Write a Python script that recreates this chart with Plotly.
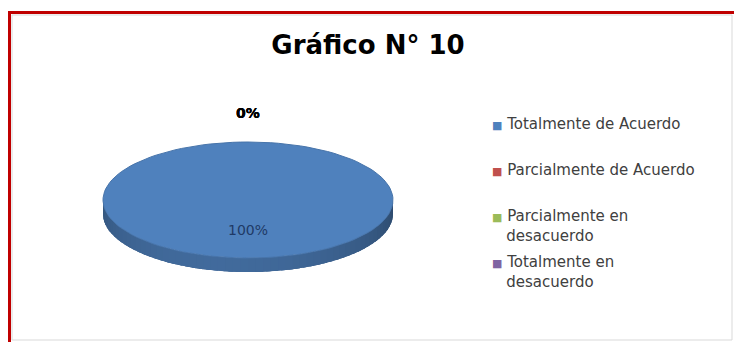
import math
import plotly.graph_objects as go

# ---------------- data ----------------
categories = ["Totalmente de Acuerdo", "Parcialmente de Acuerdo",
              "Parcialmente en desacuerdo", "Totalmente en desacuerdo"]
legend_lines = [["Totalmente de Acuerdo"], ["Parcialmente de Acuerdo"],
                ["Parcialmente en", "desacuerdo"], ["Totalmente en", "desacuerdo"]]
values = [100, 0, 0, 0]
colors = ["#4F81BD", "#C0504D", "#9BBB59", "#8064A2"]
title_text = "Gráfico N° 10"

# ---------------- layout constants (pixels) ----------------
W, H = 734, 342
CX, CY = 248, 200      # ellipse centre (top face)
RX, RY = 145, 58       # ellipse radii
DEPTH = 14             # 3-D thickness
N_ARC = 120


def shade(hex_color, f):
    h = hex_color.lstrip("#")
    r, g, b = (int(h[i:i + 2], 16) for i in (0, 2, 4))
    return "rgb(%d,%d,%d)" % (min(255, r * f), min(255, g * f), min(255, b * f))


total = float(sum(values))
fracs = [v / total for v in values]
starts, ends = [], []
acc = 0.0
for f in fracs:
    starts.append(-math.pi / 2 + 2 * math.pi * acc)
    acc += f
    ends.append(-math.pi / 2 + 2 * math.pi * acc)


def slice_at(theta):
    t = theta
    while t < -math.pi / 2:
        t += 2 * math.pi
    while t >= 3 * math.pi / 2:
        t -= 2 * math.pi
    for i, (s, e) in enumerate(zip(starts, ends)):
        if s <= t < e and e > s:
            return i
    return 0


def side_factor(a):
    return 0.62 + 0.2 * math.sin(a) - 0.05 * math.cos(a)


fig = go.Figure()

# base side polygon (front half of the cylinder wall)
n_side = 60
bx = [CX + RX * math.cos(math.pi * k / n_side) for k in range(n_side + 1)]
by = [CY + RY * math.sin(math.pi * k / n_side) for k in range(n_side + 1)]
fig.add_trace(go.Scatter(
    x=bx + bx[::-1], y=by + [y + DEPTH for y in by[::-1]],
    fill="toself", mode="lines", line=dict(width=0),
    fillcolor=shade(colors[slice_at(math.pi / 2)], 0.72),
    showlegend=False, hoverinfo="skip"))

# shaded strips (slightly overlapping)
for k in range(n_side):
    a0 = math.pi * k / n_side
    a1 = min(math.pi, math.pi * (k + 1.6) / n_side)
    am = (a0 + a1) / 2
    idx = slice_at(am)
    col = shade(colors[idx], side_factor(am))
    xs = [CX + RX * math.cos(a0), CX + RX * math.cos(a1),
          CX + RX * math.cos(a1), CX + RX * math.cos(a0)]
    ys = [CY + RY * math.sin(a0), CY + RY * math.sin(a1),
          CY + RY * math.sin(a1) + DEPTH, CY + RY * math.sin(a0) + DEPTH]
    fig.add_trace(go.Scatter(x=xs, y=ys, fill="toself", mode="lines",
                             line=dict(width=0), fillcolor=col,
                             showlegend=False, hoverinfo="skip"))

# top face slices
for i, v in enumerate(values):
    if v <= 0:
        continue
    s, e = starts[i], ends[i]
    n = max(2, int(N_ARC * (e - s) / (2 * math.pi)))
    xs, ys = [], []
    if fracs[i] < 0.9999:
        xs.append(CX)
        ys.append(CY)
    for j in range(n + 1):
        a = s + (e - s) * j / n
        xs.append(CX + RX * math.cos(a))
        ys.append(CY + RY * math.sin(a))
    fig.add_trace(go.Scatter(x=xs, y=ys, fill="toself", mode="lines",
                             line=dict(width=1, color=shade(colors[i], 0.9)),
                             fillcolor=colors[i],
                             showlegend=False, hoverinfo="skip"))

# data labels
for i, v in enumerate(values):
    mid = (starts[i] + ends[i]) / 2
    pct = "%d%%" % round(fracs[i] * 100)
    if v > 0:
        lx, ly = CX, CY + 0.52 * RY * math.sin(mid)
        if fracs[i] < 0.9999:
            lx = CX + 0.55 * RX * math.cos(mid)
        fnt = dict(family="DejaVu Sans", size=14, color="#1F3A66")
        txt = pct
    else:
        lx, ly = CX + 1.5 * RX * math.cos(mid), CY + 1.5 * RY * math.sin(mid)
        fnt = dict(family="DejaVu Sans", size=14, color="#000000")
        txt = "<b>%s</b>" % pct
    fig.add_annotation(x=lx, y=ly, xref="x", yref="y", text=txt,
                       showarrow=False, font=fnt)

# legend entries (coloured square glyph set tight against the text)
INDENT = "&nbsp;" * 3
for i, lines in enumerate(legend_lines):
    second = lines[1] if len(lines) > 1 else "&nbsp;"
    label = "<span style='color:%s;font-size:11px'>■</span> %s<br>%s%s" % (
        colors[i], lines[0], INDENT, second)
    fig.add_trace(go.Scatter(
        x=[None], y=[None], mode="markers", name=label,
        marker=dict(symbol="square", size=1, color="rgba(0,0,0,0)"),
        legendgroup=str(i)))


def px(x):
    return x / W


def py(y):
    return 1 - y / H


shapes = [
    dict(type="rect", xref="paper", yref="paper", x0=px(12), x1=px(732),
         y0=py(340), y1=py(15), line=dict(color="#D9D9D9", width=1),
         fillcolor="rgba(0,0,0,0)", layer="below"),
    dict(type="rect", xref="paper", yref="paper", x0=px(8), x1=px(734),
         y0=py(11), y1=py(14), line=dict(width=0), fillcolor="#C00000"),
    dict(type="rect", xref="paper", yref="paper", x0=px(8), x1=px(11),
         y0=py(342), y1=py(11), line=dict(width=0), fillcolor="#C00000"),
]

fig.update_layout(
    width=W, height=H, margin=dict(l=0, r=0, t=0, b=0),
    paper_bgcolor="white", plot_bgcolor="white",
    xaxis=dict(range=[0, W], visible=False, fixedrange=True, domain=[0, 1]),
    yaxis=dict(range=[H, 0], visible=False, fixedrange=True, domain=[0, 1]),
    title=dict(text="<b>%s</b>" % title_text, x=368 / W, xanchor="center",
               y=py(45), yanchor="middle",
               font=dict(family="DejaVu Sans", size=26, color="#000000")),
    legend=dict(x=px(452), xanchor="left", y=py(107), yanchor="top",
                font=dict(family="DejaVu Sans", size=15, color="#404040"),
                tracegroupgap=4, itemwidth=30, valign="top",
                bgcolor="rgba(0,0,0,0)"),
    shapes=shapes,
    showlegend=True,
)

fig.write_html("out.html")
